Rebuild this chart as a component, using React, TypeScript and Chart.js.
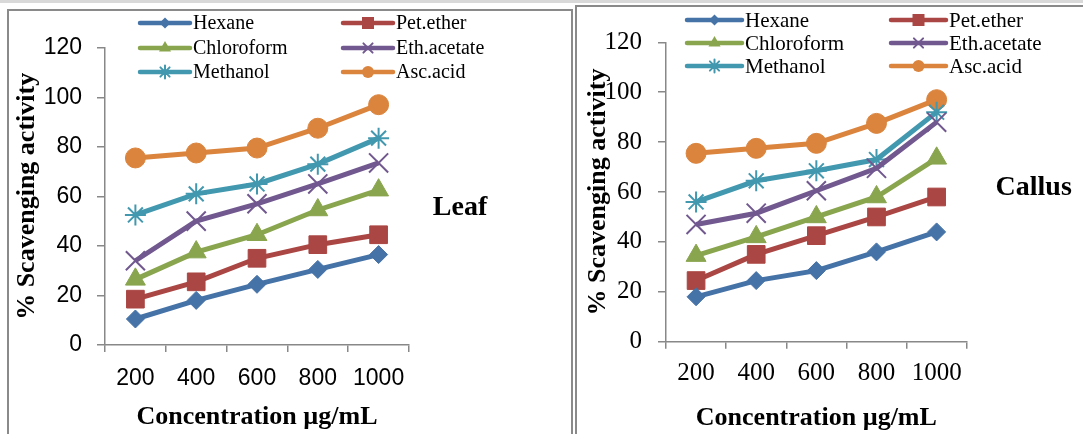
import React, { useEffect, useRef } from 'react';
import { Chart, registerables } from 'chart.js';

Chart.register(...registerables);

// ---------- data ----------
const concentrations = ['200', '400', '600', '800', '1000'];
const seriesNames = ['Hexane', 'Pet.ether', 'Chloroform', 'Eth.acetate', 'Methanol', 'Asc.acid'];

const leafHexane = [10.5, 18, 24.5, 30.5, 36.5];
const leafPetEther = [18.5, 25.5, 35, 40.5, 44.5];
const leafChloroform = [26.5, 37.5, 44.5, 54.5, 62.5];
const leafEthAcetate = [34, 50, 57, 65, 73.5];
const leafMethanol = [52.5, 61, 65, 73, 83.5];
const leafAscAcid = [75.5, 77.5, 79.5, 87.5, 97];

const callusHexane = [18, 24.5, 28.5, 36, 44];
const callusPetEther = [24.5, 35, 42.5, 50, 58];
const callusChloroform = [34.5, 42, 50, 58, 73.5];
const callusEthAcetate = [47, 51.5, 60.5, 69.5, 88];
const callusMethanol = [56, 64.5, 68.5, 73, 92];
const callusAscAcid = [75.5, 77.5, 79.5, 87.5, 97];

const yMin = 0;
const yMax = 120;
const yStep = 20;

const xTitle = 'Concentration µg/mL';
const yTitle = '% Scavenging activity';

// ---------- styles ----------
const seriesColors = ['#4572A7', '#AA4643', '#89A54E', '#71588F', '#4198AF', '#DB843D'];
const seriesPointStyles = ['rectRot', 'rect', 'triangle', 'crossRot', 'star', 'circle'];
const seriesPointRadius = [9, 12.5, 11.5, 13.5, 10.5, 10];
const seriesPointBorder = [1, 1, 1, 2, 2, 1];
const legendMarkerSize = [5.5, 6, 7, 6.5, 6.5, 6];

function drawMarker(ctx: CanvasRenderingContext2D, style: string, x: number, y: number, r: number, color: string) {
  ctx.save();
  ctx.fillStyle = color;
  ctx.strokeStyle = color;
  ctx.lineWidth = 2;
  ctx.beginPath();
  if (style === 'rectRot') {
    ctx.moveTo(x, y - r);
    ctx.lineTo(x + r, y);
    ctx.lineTo(x, y + r);
    ctx.lineTo(x - r, y);
    ctx.closePath();
    ctx.fill();
  } else if (style === 'rect') {
    ctx.rect(x - r, y - r, 2 * r, 2 * r);
    ctx.fill();
  } else if (style === 'triangle') {
    ctx.moveTo(x, y - r);
    ctx.lineTo(x + r * 0.866, y + r * 0.5);
    ctx.lineTo(x - r * 0.866, y + r * 0.5);
    ctx.closePath();
    ctx.fill();
  } else if (style === 'crossRot') {
    const d = r * 0.707;
    ctx.moveTo(x - d, y - d);
    ctx.lineTo(x + d, y + d);
    ctx.moveTo(x + d, y - d);
    ctx.lineTo(x - d, y + d);
    ctx.stroke();
  } else if (style === 'star') {
    const d = r * 0.707;
    ctx.moveTo(x, y - r);
    ctx.lineTo(x, y + r);
    ctx.moveTo(x - d, y - d);
    ctx.lineTo(x + d, y + d);
    ctx.moveTo(x + d, y - d);
    ctx.lineTo(x - d, y + d);
    ctx.stroke();
  } else {
    ctx.arc(x, y, r, 0, Math.PI * 2);
    ctx.fill();
  }
  ctx.restore();
}

const gridLegendPlugin = {
  id: 'gridLegend',
  afterDraw(chart: any, _args: any, opts: any) {
    const ctx: CanvasRenderingContext2D = chart.ctx;
    ctx.save();
    chart.data.datasets.forEach((ds: any, i: number) => {
      const col = i % 2;
      const row = Math.floor(i / 2);
      const x0 = opts.cols[col];
      const y = opts.rows[row];
      ctx.strokeStyle = ds.borderColor;
      ctx.lineWidth = opts.lineWidth;
      ctx.lineCap = 'round';
      ctx.beginPath();
      ctx.moveTo(x0, y);
      ctx.lineTo(x0 + opts.lineLen, y);
      ctx.stroke();
      drawMarker(ctx, ds.pointStyle, x0 + opts.lineLen / 2, y, legendMarkerSize[i], ds.borderColor);
      ctx.fillStyle = '#000';
      ctx.font = `${opts.fontSize}px "Liberation Serif", "Times New Roman", serif`;
      ctx.textAlign = 'left';
      ctx.textBaseline = 'middle';
      ctx.fillText(ds.label, x0 + opts.lineLen + opts.gap, y + 1);
    });
    ctx.restore();
  },
};

const panelLabelPlugin = {
  id: 'panelLabel',
  afterDraw(chart: any, _args: any, opts: any) {
    const ctx: CanvasRenderingContext2D = chart.ctx;
    ctx.save();
    ctx.fillStyle = '#000';
    ctx.font = `bold ${opts.fontSize}px "Liberation Serif", "Times New Roman", serif`;
    ctx.textAlign = 'center';
    ctx.textBaseline = 'middle';
    ctx.fillText(opts.text, chart.chartArea.right + opts.dx, opts.y);
    ctx.restore();
  },
};

type PanelProps = {
  values: number[][];
  left: number;
  top: number;
  width: number;
  height: number;
  padTop: number;
  padRight: number;
  yWidth: number;
  xHeight: number;
  tickFamily: string;
  tickSize: number;
  yTickPad: number;
  xTickPad: number;
  titleSize: number;
  yTitlePadTop: number;
  xTitlePadBottom: number;
  legend: { cols: number[]; rows: number[]; lineLen: number; gap: number; fontSize: number; lineWidth: number };
  label: { text: string; dx: number; y: number; fontSize: number };
};

function Panel(p: PanelProps) {
  const ref = useRef<HTMLCanvasElement | null>(null);
  useEffect(() => {
    if (!ref.current) return;
    const gray = '#888888';
    const datasets = seriesNames.map((name, i) => ({
      label: name,
      data: p.values[i],
      borderColor: seriesColors[i],
      backgroundColor: seriesColors[i],
      borderWidth: 5,
      pointStyle: seriesPointStyles[i],
      pointRadius: seriesPointRadius[i],
      pointBorderWidth: seriesPointBorder[i],
      pointBackgroundColor: seriesColors[i],
      pointBorderColor: seriesColors[i],
      tension: 0,
      clip: false as any,
    }));
    const chart = new Chart(ref.current, {
      type: 'line',
      data: { labels: concentrations, datasets },
      plugins: [gridLegendPlugin as any, panelLabelPlugin as any],
      options: {
        animation: false,
        responsive: false,
        layout: { padding: { left: 0, top: p.padTop, right: p.padRight, bottom: 0 } },
        plugins: {
          legend: { display: false },
          tooltip: { enabled: false },
          gridLegend: p.legend,
          panelLabel: p.label,
        } as any,
        scales: {
          x: {
            type: 'category',
            offset: true,
            grid: { offset: true, drawOnChartArea: false, drawTicks: true, tickLength: 7, color: gray, lineWidth: 1.5 },
            border: { display: true, color: gray, width: 1.5 },
            ticks: {
              color: '#000',
              padding: p.xTickPad,
              maxRotation: 0,
              autoSkip: false,
              font: { family: p.tickFamily, size: p.tickSize },
            },
            title: {
              display: true,
              text: xTitle,
              color: '#000',
              font: { family: '"Liberation Serif", "Times New Roman", serif', size: p.titleSize, weight: 'bold' },
              padding: { top: 0, bottom: p.xTitlePadBottom },
            },
            afterFit: (s: any) => {
              s.height = p.xHeight;
            },
          },
          y: {
            min: yMin,
            max: yMax,
            grid: { drawOnChartArea: false, drawTicks: true, tickLength: 8, color: gray, lineWidth: 1.5 },
            border: { display: true, color: gray, width: 1.5 },
            ticks: {
              stepSize: yStep,
              color: '#000',
              padding: p.yTickPad,
              font: { family: p.tickFamily, size: p.tickSize },
            },
            title: {
              display: true,
              text: yTitle,
              color: '#000',
              font: { family: '"Liberation Serif", "Times New Roman", serif', size: p.titleSize, weight: 'bold' },
              padding: { top: p.yTitlePadTop, bottom: 0 },
            },
            afterFit: (s: any) => {
              s.width = p.yWidth;
            },
          },
        },
      },
    });
    return () => chart.destroy();
  }, []);
  return (
    <canvas
      ref={ref}
      width={p.width}
      height={p.height}
      style={{ position: 'absolute', left: p.left, top: p.top, width: p.width, height: p.height }}
    />
  );
}

const leafValues = [leafHexane, leafPetEther, leafChloroform, leafEthAcetate, leafMethanol, leafAscAcid];
const callusValues = [callusHexane, callusPetEther, callusChloroform, callusEthAcetate, callusMethanol, callusAscAcid];

export default function App() {
  return (
    <div
      style={{
        position: 'fixed',
        left: 0,
        top: 0,
        width: 1083,
        height: 434,
        overflow: 'hidden',
        background: '#fff',
      }}
    >
      <div style={{ position: 'absolute', left: 0, top: 0, width: 1083, height: 3, background: '#d9d9d9' }} />
      <div
        style={{
          position: 'absolute',
          left: 7,
          top: 9,
          width: 566,
          height: 500,
          border: '2px solid #8a8a8a',
          boxSizing: 'border-box',
        }}
      />
      <div
        style={{
          position: 'absolute',
          left: 575,
          top: 5,
          width: 600,
          height: 500,
          border: '2px solid #8a8a8a',
          boxSizing: 'border-box',
        }}
      />
      <Panel
        values={leafValues}
        left={10}
        top={12}
        width={560}
        height={422}
        padTop={35.7}
        padRight={161}
        yWidth={95}
        xHeight={89}
        tickFamily={'"Liberation Sans", Arial, sans-serif'}
        tickSize={23}
        yTickPad={15}
        xTickPad={13}
        titleSize={26}
        yTitlePadTop={2}
        xTitlePadBottom={1}
        legend={{ cols: [130, 333], rows: [11, 36, 60], lineLen: 50, gap: 3, fontSize: 20, lineWidth: 4.5 }}
        label={{ text: 'Leaf', dx: 51, y: 196, fontSize: 28 }}
      />
      <Panel
        values={callusValues}
        left={578}
        top={8}
        width={505}
        height={426}
        padTop={34.3}
        padRight={116.3}
        yWidth={88}
        xHeight={92.3}
        tickFamily={'"Liberation Serif", "Times New Roman", serif'}
        tickSize={25}
        yTickPad={16}
        xTickPad={10}
        titleSize={26}
        yTitlePadTop={5}
        xTitlePadBottom={0.5}
        legend={{ cols: [109, 313], rows: [12, 35, 58], lineLen: 55, gap: 3, fontSize: 21, lineWidth: 4.5 }}
        label={{ text: 'Callus', dx: 67, y: 180, fontSize: 28 }}
      />
    </div>
  );
}
